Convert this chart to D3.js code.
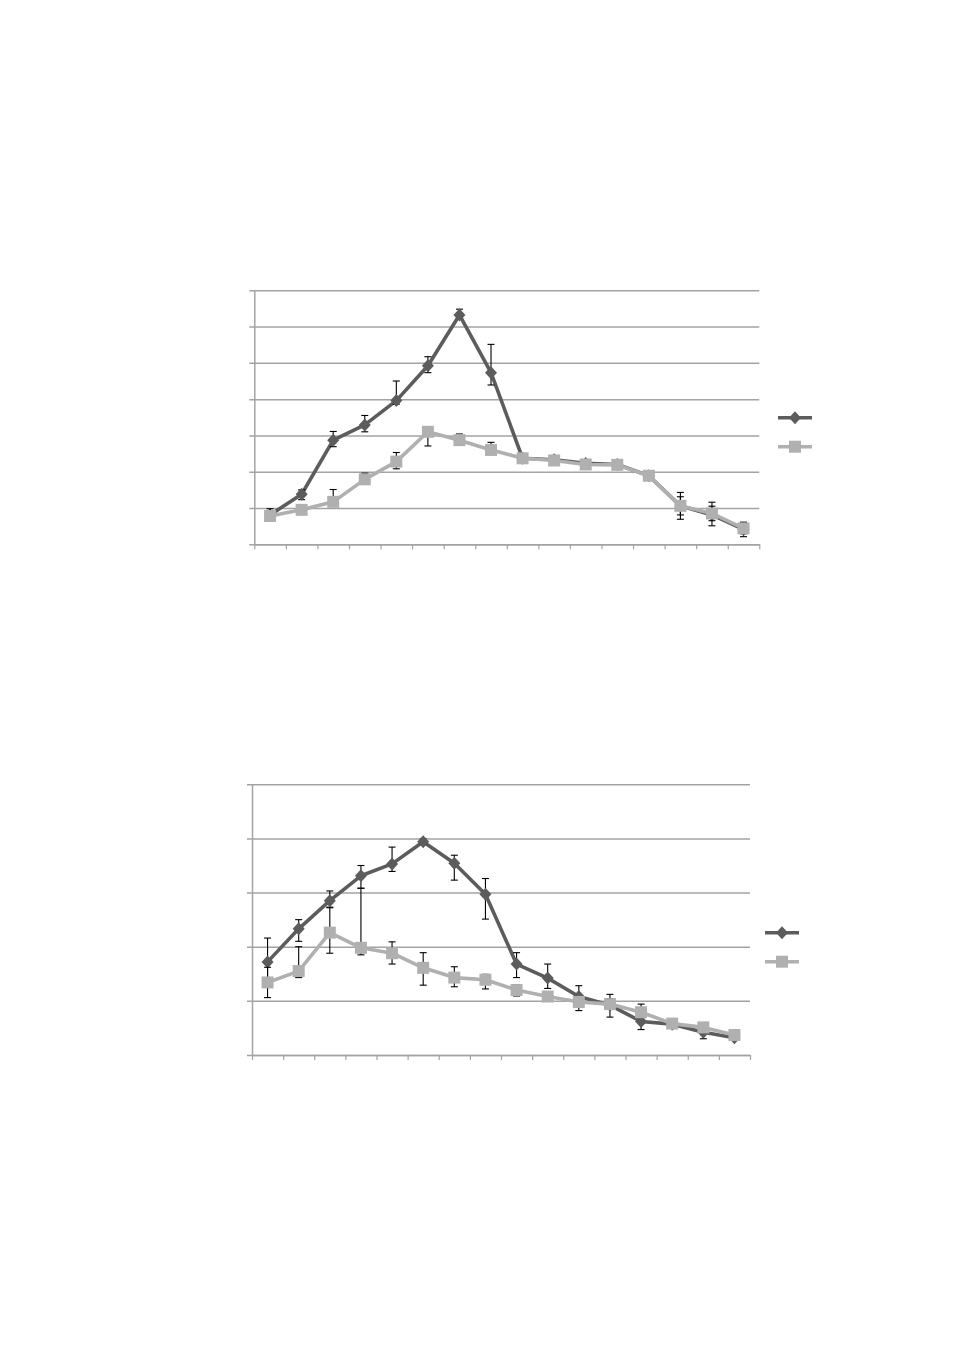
<!DOCTYPE html>
<html>
<head>
<meta charset="utf-8">
<script src="https://cdn.jsdelivr.net/npm/d3@7"></script>
<style>
  html, body { margin: 0; padding: 0; background: #ffffff; }
  svg { display: block; }
</style>
</head>
<body>
<svg id="chart" width="954" height="1350"></svg>
<script>
// ---------- DATA ----------
const categories = ["1","2","3","4","5","6","7","8","9","10","11","12","13","14","15","16"];
const seriesNames = ["Series 1", "Series 2"];

// Chart 1 (y axis 0..7, no labels)
const c1YTicks = [0,1,2,3,4,5,6,7];
const c1Dark      = [0.81,1.38,2.87,3.29,3.96,4.92,6.32,4.73,2.37,2.33,2.23,2.20,1.89,1.06,0.81,0.41];
const c1DarkUp    = [0.05,0.12,0.24,0.26,0.54,0.25,0.16,0.78,0.05,0.05,0.06,0.05,0.03,0.37,0.35,0.20];
const c1DarkDown  = [0.05,0.15,0.18,0.19,0.10,0.19,0.05,0.34,0.05,0.05,0.06,0.05,0.03,0.37,0.30,0.20];
const c1Light     = [0.78,0.95,1.17,1.79,2.28,3.10,2.87,2.60,2.37,2.31,2.20,2.19,1.89,1.06,0.85,0.44];
const c1LightUp   = [0.20,0.05,0.34,0.17,0.25,0.10,0.17,0.21,0.05,0.05,0.05,0.05,0.03,0.25,0.20,0.15];
const c1LightDown = [0.05,0.05,0.10,0.10,0.20,0.39,0.10,0.10,0.05,0.05,0.05,0.05,0.03,0.25,0.20,0.15];

// Chart 2 (y axis 0..5, no labels)
const c2YTicks = [0,1,2,3,4,5];
const c2Dark      = [1.72,2.33,2.85,3.31,3.53,3.94,3.54,2.97,1.68,1.42,1.08,0.92,0.62,0.57,0.42,0.32];
const c2DarkUp    = [0.44,0.17,0.18,0.19,0.31,0.05,0.15,0.29,0.21,0.26,0.20,0.20,0.10,0.05,0.05,0.05];
const c2DarkDown  = [0.44,0.23,0.12,0.23,0.14,0.05,0.31,0.46,0.25,0.19,0.26,0.22,0.15,0.05,0.12,0.05];
const c2Light     = [1.34,1.55,2.26,1.98,1.88,1.61,1.43,1.39,1.20,1.08,0.98,0.94,0.79,0.58,0.51,0.37];
const c2LightUp   = [0.28,0.45,0.46,1.10,0.21,0.28,0.20,0.10,0.10,0.05,0.05,0.10,0.15,0.05,0.05,0.05];
const c2LightDown = [0.28,0.12,0.38,0.13,0.20,0.32,0.17,0.17,0.11,0.05,0.05,0.05,0.05,0.05,0.05,0.05];

// ---------- STYLE ----------
const darkColor = "#5c5c5c";
const lightColor = "#b0b0b0";
const gridColor = "#a3a3a3";

const svg = d3.select("#chart");

function drawChart(opts) {
  const { left, right, top, bottom, yMax, yTicks, series, legendX, legendY } = opts;
  const g = svg.append("g");

  const x = d3.scaleBand().domain(categories).range([left, right]).padding(0);
  const xIdx = d3.scaleLinear().domain([0, categories.length]).range([left, right]);
  const y = d3.scaleLinear().domain([0, yMax]).range([bottom, top]);

  // gridlines + left ticks
  const yAxis = d3.axisLeft(y).tickValues(yTicks).tickSizeInner(-(right - left)).tickSizeOuter(0).tickFormat("");
  const ya = g.append("g").attr("transform", `translate(${left},0)`).call(yAxis);
  ya.select(".domain").attr("stroke", gridColor).attr("stroke-width", 1.5);
  ya.selectAll(".tick line").attr("x1", -5).attr("stroke", gridColor).attr("stroke-width", 1.5);

  // bottom axis with ticks at category boundaries
  const xAxis = d3.axisBottom(xIdx).tickValues(d3.range(categories.length + 1)).tickSize(5).tickSizeOuter(0).tickFormat("");
  const xa = g.append("g").attr("transform", `translate(0,${bottom})`).call(xAxis);
  xa.select(".domain").attr("stroke", gridColor).attr("stroke-width", 1.5);
  xa.selectAll(".tick line").attr("stroke", gridColor).attr("stroke-width", 1.2);

  const cx = c => x(c) + x.bandwidth() / 2;

  series.forEach(s => {
    const data = categories.map((c, i) => ({ c, v: s.values[i], up: s.up[i], down: s.down[i] }));
    const line = d3.line().x(d => cx(d.c)).y(d => y(d.v));
    g.append("path").datum(data)
      .attr("d", line).attr("fill", "none")
      .attr("stroke", s.color).attr("stroke-width", 3.6).attr("stroke-linejoin", "round");

    // error bars
    const eb = g.append("g").attr("stroke", "#000").attr("stroke-width", 1.1);
    data.forEach(d => {
      const xc = cx(d.c);
      const y1 = y(d.v + d.up), y2 = y(d.v - d.down);
      eb.append("line").attr("x1", xc).attr("x2", xc).attr("y1", y1).attr("y2", y2);
      eb.append("line").attr("x1", xc - 3.5).attr("x2", xc + 3.5).attr("y1", y1).attr("y2", y1);
      eb.append("line").attr("x1", xc - 3.5).attr("x2", xc + 3.5).attr("y1", y2).attr("y2", y2);
    });

    // markers
    g.append("g").selectAll("path").data(data).join("path")
      .attr("transform", d => `translate(${cx(d.c)},${y(d.v)})`)
      .attr("d", s.marker)
      .attr("fill", s.color);
  });

  // legend
  series.forEach((s, i) => {
    const ly = legendY[i];
    g.append("line").attr("x1", legendX).attr("x2", legendX + 34).attr("y1", ly).attr("y2", ly)
      .attr("stroke", s.color).attr("stroke-width", 3.6);
    g.append("path").attr("transform", `translate(${legendX + 17},${ly})`).attr("d", s.marker).attr("fill", s.color);
  });
}

const diamond = "M0,-6.5L6,0L0,6.5L-6,0Z";
const square = "M-6,-6H6V6H-6Z";

drawChart({
  left: 254.3, right: 759.3, top: 290.3, bottom: 544.3, yMax: 7, yTicks: c1YTicks,
  legendX: 778, legendY: [417.7, 446.7],
  series: [
    { name: seriesNames[0], values: c1Dark, up: c1DarkUp, down: c1DarkDown, color: darkColor, marker: diamond },
    { name: seriesNames[1], values: c1Light, up: c1LightUp, down: c1LightDown, color: lightColor, marker: square }
  ]
});

drawChart({
  left: 252, right: 750, top: 784.3, bottom: 1055, yMax: 5, yTicks: c2YTicks,
  legendX: 765, legendY: [932.7, 961.7],
  series: [
    { name: seriesNames[0], values: c2Dark, up: c2DarkUp, down: c2DarkDown, color: darkColor, marker: diamond },
    { name: seriesNames[1], values: c2Light, up: c2LightUp, down: c2LightDown, color: lightColor, marker: square }
  ]
});
</script>
</body>
</html>
